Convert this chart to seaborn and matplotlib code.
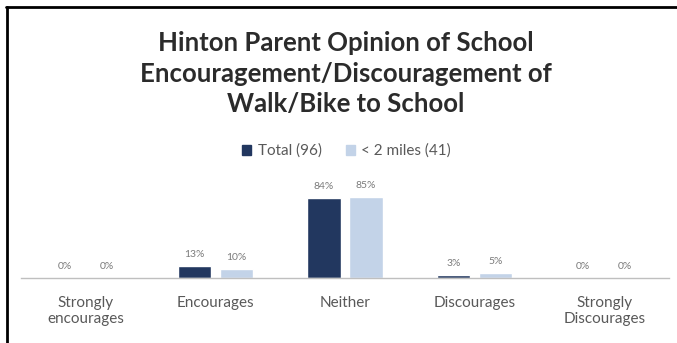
import matplotlib
matplotlib.use("Agg")
import matplotlib.pyplot as plt
import seaborn as sns
import pandas as pd

categories = ["Strongly\nencourages", "Encourages", "Neither", "Discourages", "Strongly\nDiscourages"]
total_96 = [0, 13, 84, 3, 0]
under_2_miles_41 = [0, 10, 85, 5, 0]
series_names = ["Total (96)", "< 2 miles (41)"]
colors = ["#22375f", "#c3d3e8"]

df = pd.DataFrame({
    "category": categories * 2,
    "value": total_96 + under_2_miles_41,
    "series": [series_names[0]] * 5 + [series_names[1]] * 5,
})

sns.set_theme(style="white")
plt.rcParams["font.family"] = ["Lato", "DejaVu Sans"]

fig = plt.figure(figsize=(6.77, 3.43), dpi=100)
ax = fig.add_axes([21 / 677, 1 - 278 / 343, 648 / 677, 95 / 343])

sns.barplot(data=df, x="category", y="value", hue="series", palette=colors,
            width=0.65, gap=0.21, ax=ax, legend=False, saturation=1)

for cont in ax.containers:
    ax.bar_label(cont, labels=[f"{v:.0f}%" for v in cont.datavalues],
                 padding=5, fontsize=7.5, color="#7a7a7a")

ax.set_ylim(0, 100)
ax.set_xlim(-0.5, 4.5)
ax.set_xlabel("")
ax.set_ylabel("")
ax.set_yticks([])
for s in ["left", "right", "top"]:
    ax.spines[s].set_visible(False)
ax.spines["bottom"].set_color("#bfbfbf")
ax.spines["bottom"].set_linewidth(1.0)
ax.tick_params(axis="x", length=0, pad=13, labelsize=11, labelcolor="#595959")

# Title
title_lines = ["Hinton Parent Opinion of School", "Encouragement/Discouragement of", "Walk/Bike to School"]
for line, y in zip(title_lines, [43, 74, 104]):
    fig.text(0.511, 1 - y / 343, line, ha="center", va="center",
             fontsize=18.5, fontweight="bold", color="#2b2b2b")

# Legend
handles = [plt.Rectangle((0, 0), 1, 1, color=c) for c in colors]
fig.legend(handles, series_names, loc="center", bbox_to_anchor=(0.512, 1 - 151 / 343),
           ncol=2, frameon=False, fontsize=11, labelcolor="#595959",
           handlelength=0.6, handleheight=0.6, handletextpad=0.4, columnspacing=1.6)

# Frame edges along the top and left
fig.add_artist(plt.Line2D([6 / 677, 1], [1 - 6.5 / 343, 1 - 6.5 / 343], color="black", lw=2,
                          transform=fig.transFigure))
fig.add_artist(plt.Line2D([6.5 / 677, 6.5 / 677], [0, 1 - 6.5 / 343], color="black", lw=2,
                          transform=fig.transFigure))

fig.savefig("out.png", dpi=100)
